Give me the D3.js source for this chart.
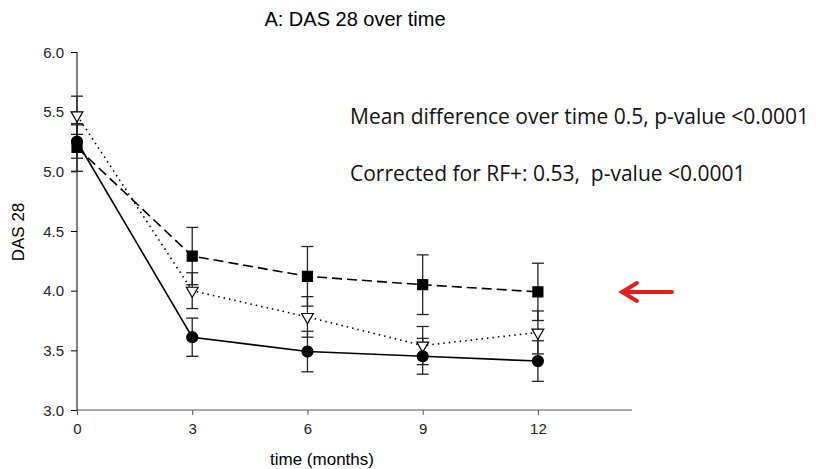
<!DOCTYPE html>
<html>
<head>
<meta charset="utf-8">
<script src="https://cdn.jsdelivr.net/npm/d3@7"></script>
<style>
  body { margin: 0; background: #fff; }
  svg { display: block; font-family: Arial, "Liberation Sans", sans-serif; }
  .note { font-family: "Open Sans", "Noto Sans", sans-serif; font-size: 21px; fill: #111; white-space: pre; }
</style>
</head>
<body>
<svg id="chart" width="816" height="469"></svg>
<script>
const months = [0, 3, 6, 9, 12];
const yTicks = [3.0, 3.5, 4.0, 4.5, 5.0, 5.5, 6.0];

// squares, dashed line
const squareMean = [5.20, 4.29, 4.12, 4.05, 3.99];
const squareErr = [0.20, 0.24, 0.25, 0.25, 0.24];
// open triangles, dotted line
const triangleMean = [5.47, 4.00, 3.78, 3.54, 3.65];
const triangleErr = [0.16, 0.15, 0.17, 0.16, 0.18];
// filled circles, solid line
const circleMean = [5.25, 3.61, 3.49, 3.45, 3.41];
const circleErr = [0.14, 0.16, 0.17, 0.15, 0.17];

const notes = [
  "Mean difference over time 0.5, p-value <0.0001",
  "Corrected for RF+: 0.53,  p-value <0.0001"
];

const svg = d3.select("#chart");
const left = 77;
const x = d3.scaleLinear().domain([0, 14.45]).range([left, 632]);
const y = d3.scaleLinear().domain([3, 6]).range([410, 52]);

const series = [
  { mean: squareMean, err: squareErr, symbol: d3.symbolSquare, size: 100, fill: "#000", dash: "10,5", width: 1.6 },
  { mean: triangleMean, err: triangleErr, symbol: d3.symbolTriangle, size: 60, fill: "#fff", dash: "1.5,4", width: 1.6, flip: true },
  { mean: circleMean, err: circleErr, symbol: d3.symbolCircle, size: 95, fill: "#000", dash: null, width: 1.6 }
];

svg.append("text")
  .attr("x", 355)
  .attr("y", 26)
  .attr("text-anchor", "middle")
  .style("font-size", "20px")
  .text("A: DAS 28 over time");

// axes
const yAxis = svg.append("g")
  .attr("transform", `translate(${left},0)`)
  .call(d3.axisLeft(y).tickValues(yTicks).tickFormat(d3.format(".1f")).tickSize(6).tickPadding(7));
yAxis.attr("font-family", null);
yAxis.selectAll("text").style("font-size", "15px").attr("fill", "#222").attr("dy", "0.35em");
yAxis.selectAll("line, path").attr("stroke", "#000");
yAxis.select(".domain").attr("d", `M0,${y(6)}V${y(3)}`);

const xAxis = svg.append("g")
  .attr("transform", `translate(0,${y(3)})`)
  .call(d3.axisBottom(x).tickValues(months).tickSize(5).tickPadding(8));
xAxis.attr("font-family", null);
xAxis.selectAll("text").style("font-size", "15px").attr("fill", "#222");
xAxis.selectAll("line, path").attr("stroke", "#555");
xAxis.select(".domain").attr("d", `M${x(0)},0H${x(14.45)}`);

svg.append("text")
  .attr("transform", "translate(24,232) rotate(-90)")
  .attr("text-anchor", "middle")
  .style("font-size", "17px")
  .text("DAS 28");

svg.append("text")
  .attr("x", 322)
  .attr("y", 465)
  .attr("text-anchor", "middle")
  .style("font-size", "17px")
  .text("time (months)");

// lines
const line = d3.line().x((item, i) => x(months[i])).y((item) => y(item));
for (const s of series) {
  svg.append("path")
    .attr("d", line(s.mean))
    .attr("fill", "none")
    .attr("stroke", "#000")
    .attr("stroke-width", s.width)
    .attr("stroke-dasharray", s.dash);
}

// error bars
for (const s of series) {
  const bars = svg.append("g").attr("stroke", "#222").attr("stroke-width", 1.3);
  s.mean.forEach((value, i) => {
    const cx = x(months[i]);
    const hi = y(value + s.err[i]);
    const lo = y(value - s.err[i]);
    bars.append("line").attr("x1", cx).attr("x2", cx).attr("y1", hi).attr("y2", lo);
    bars.append("line").attr("x1", cx - 6).attr("x2", cx + 6).attr("y1", hi).attr("y2", hi);
    bars.append("line").attr("x1", cx - 6).attr("x2", cx + 6).attr("y1", lo).attr("y2", lo);
  });
}

// markers
for (const s of series) {
  svg.append("g")
    .selectAll("path")
    .data(s.mean)
    .join("path")
    .attr("d", d3.symbol().type(s.symbol).size(s.size))
    .attr("transform", (item, i) => `translate(${x(months[i])},${y(item)})${s.flip ? " rotate(180)" : ""}`)
    .attr("fill", s.fill)
    .attr("stroke", "#000")
    .attr("stroke-width", 1.2);
}

// annotations
svg.selectAll("text.note")
  .data(notes)
  .join("text")
  .attr("class", "note")
  .attr("x", 350)
  .attr("y", (item, i) => 124 + i * 57)
  .text((item) => item);

// red arrow
const arrow = svg.append("g").attr("stroke", "#e0201c").attr("stroke-width", 4).attr("fill", "none").attr("stroke-linecap", "round");
arrow.append("line").attr("x1", 672).attr("x2", 624).attr("y1", 292).attr("y2", 292);
arrow.append("path").attr("d", "M637,283L622,292L637,301");
</script>
</body>
</html>
